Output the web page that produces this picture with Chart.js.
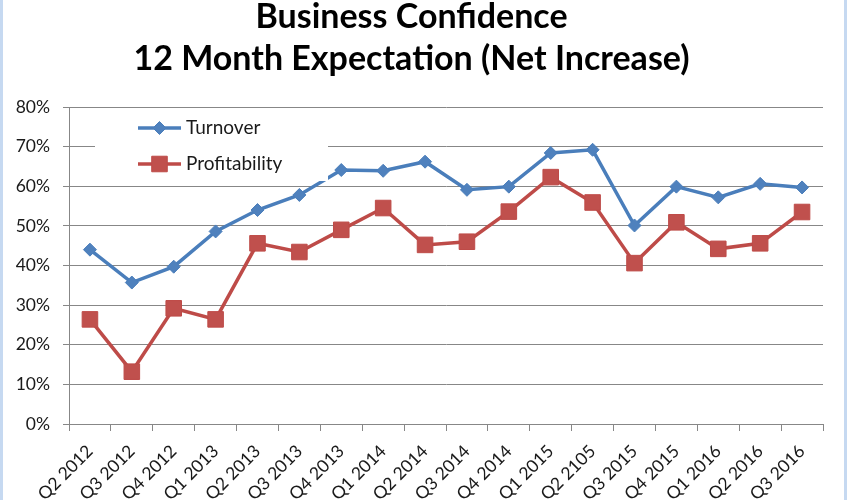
<!DOCTYPE html>
<html>
<head>
<meta charset="utf-8">
<script src="https://cdn.jsdelivr.net/npm/chart.js@4"></script>
<style>
  html, body { margin: 0; padding: 0; background: #ffffff; }
  #wrap { width: 847px; height: 500px; position: relative; }
</style>
</head>
<body>
<div id="wrap"><canvas id="c" width="847" height="500"></canvas></div>
<script>
const categories = ["Q2 2012","Q3 2012","Q4 2012","Q1 2013","Q2 2013","Q3 2013","Q4 2013","Q1 2014","Q2 2014","Q3 2014","Q4 2014","Q1 2015","Q2 2105","Q3 2015","Q4 2015","Q1 2016","Q2 2016","Q3 2016"];
const turnover = [44.0, 35.7, 39.7, 48.6, 54.0, 57.8, 64.1, 63.9, 66.2, 59.1, 59.9, 68.4, 69.2, 50.1, 59.9, 57.2, 60.6, 59.7];
const profitability = [26.4, 13.2, 29.2, 26.4, 45.6, 43.4, 49.0, 54.5, 45.2, 46.0, 53.6, 62.3, 55.9, 40.6, 50.9, 44.2, 45.6, 53.5];
const yTicks = [0, 10, 20, 30, 40, 50, 60, 70, 80];
const titleLines = ["Business Confidence", "12 Month Expectation (Net Increase)"];

const FONT = "Lato, 'Open Sans', sans-serif";
const GRID = "#878787";

const framePlugin = {
  id: 'frame',
  beforeDraw(chart) {
    const ctx = chart.ctx;
    ctx.save();
    ctx.fillStyle = '#ffffff';
    ctx.fillRect(0, 0, chart.width, chart.height);
    ctx.fillStyle = '#C6D9F1';
    ctx.fillRect(0, 0, 3, chart.height);
    ctx.fillRect(chart.width - 3, 0, 3, chart.height);
    ctx.restore();
  }
};

const legendPlugin = {
  id: 'innerLegend',
  afterDatasetsDraw(chart) {
    const ctx = chart.ctx;
    ctx.save();
    ctx.fillStyle = '#ffffff';
    ctx.fillRect(95, 109, 233, 72);
    const rows = [128, 164];
    chart.data.datasets.forEach((ds, i) => {
      const y = rows[i];
      ctx.strokeStyle = ds.borderColor;
      ctx.lineWidth = ds.borderWidth;
      ctx.beginPath();
      ctx.moveTo(138, y);
      ctx.lineTo(181, y);
      ctx.stroke();
      ctx.fillStyle = ds.pointBackgroundColor;
      ctx.strokeStyle = ds.pointBorderColor;
      ctx.lineWidth = 1;
      Chart.helpers.drawPoint(ctx, {pointStyle: ds.pointStyle, radius: ds.pointRadius, rotation: 0, borderWidth: 1}, 159.5, y);
      ctx.fillStyle = '#1a1a1a';
      ctx.font = "19px " + FONT;
      ctx.textAlign = 'left';
      ctx.textBaseline = 'middle';
      ctx.fillText(ds.label, 186, y);
    });
    ctx.restore();
  }
};

new Chart(document.getElementById('c'), {
  type: 'line',
  data: {
    labels: categories,
    datasets: [
      {
        label: 'Turnover',
        data: turnover,
        borderColor: '#4A7EBB',
        borderWidth: 3.5,
        pointStyle: 'rectRot',
        pointRadius: 6.5,
        pointBackgroundColor: '#4F81BD',
        pointBorderColor: '#4A7EBB',
        pointBorderWidth: 1,
        tension: 0
      },
      {
        label: 'Profitability',
        data: profitability,
        borderColor: '#BE4B48',
        borderWidth: 3.5,
        pointStyle: 'rect',
        pointRadius: 11,
        pointBackgroundColor: '#C0504D',
        pointBorderColor: '#BE4B48',
        pointBorderWidth: 1,
        tension: 0
      }
    ]
  },
  options: {
    responsive: false,
    animation: false,
    devicePixelRatio: 1,
    layout: { padding: { left: 0, right: 24, top: 0, bottom: 0 } },
    plugins: {
      legend: { display: false },
      tooltip: { enabled: false },
      title: {
        display: true,
        text: titleLines,
        color: '#000000',
        font: { family: FONT, size: 34, weight: 'bold', lineHeight: '42px' },
        padding: { top: -4, bottom: 27 }
      }
    },
    scales: {
      x: {
        type: 'category',
        offset: true,
        grid: { display: true, drawOnChartArea: false, drawTicks: true, tickLength: 7, tickColor: GRID, offset: true },
        border: { display: true, color: GRID, width: 1 },
        ticks: {
          color: '#1a1a1a',
          font: { family: FONT, size: 17.5 },
          maxRotation: 45, minRotation: 45,
          autoSkip: false,
          padding: 10,
          labelOffset: 0
        },
        afterFit(scale) { scale.height = 76; }
      },
      y: {
        min: 0, max: 80,
        afterBuildTicks(scale) { scale.ticks = yTicks.map(v => ({ value: v })); },
        grid: { color: GRID, lineWidth: 1, drawTicks: true, tickLength: 6, tickColor: GRID },
        border: { display: true, color: GRID, width: 1 },
        ticks: {
          color: '#1a1a1a',
          font: { family: FONT, size: 17.5 },
          padding: 13,
          callback: v => v + '%'
        },
        afterFit(scale) { scale.width = 69; }
      }
    }
  },
  plugins: [framePlugin, legendPlugin]
});
</script>
</body>
</html>
